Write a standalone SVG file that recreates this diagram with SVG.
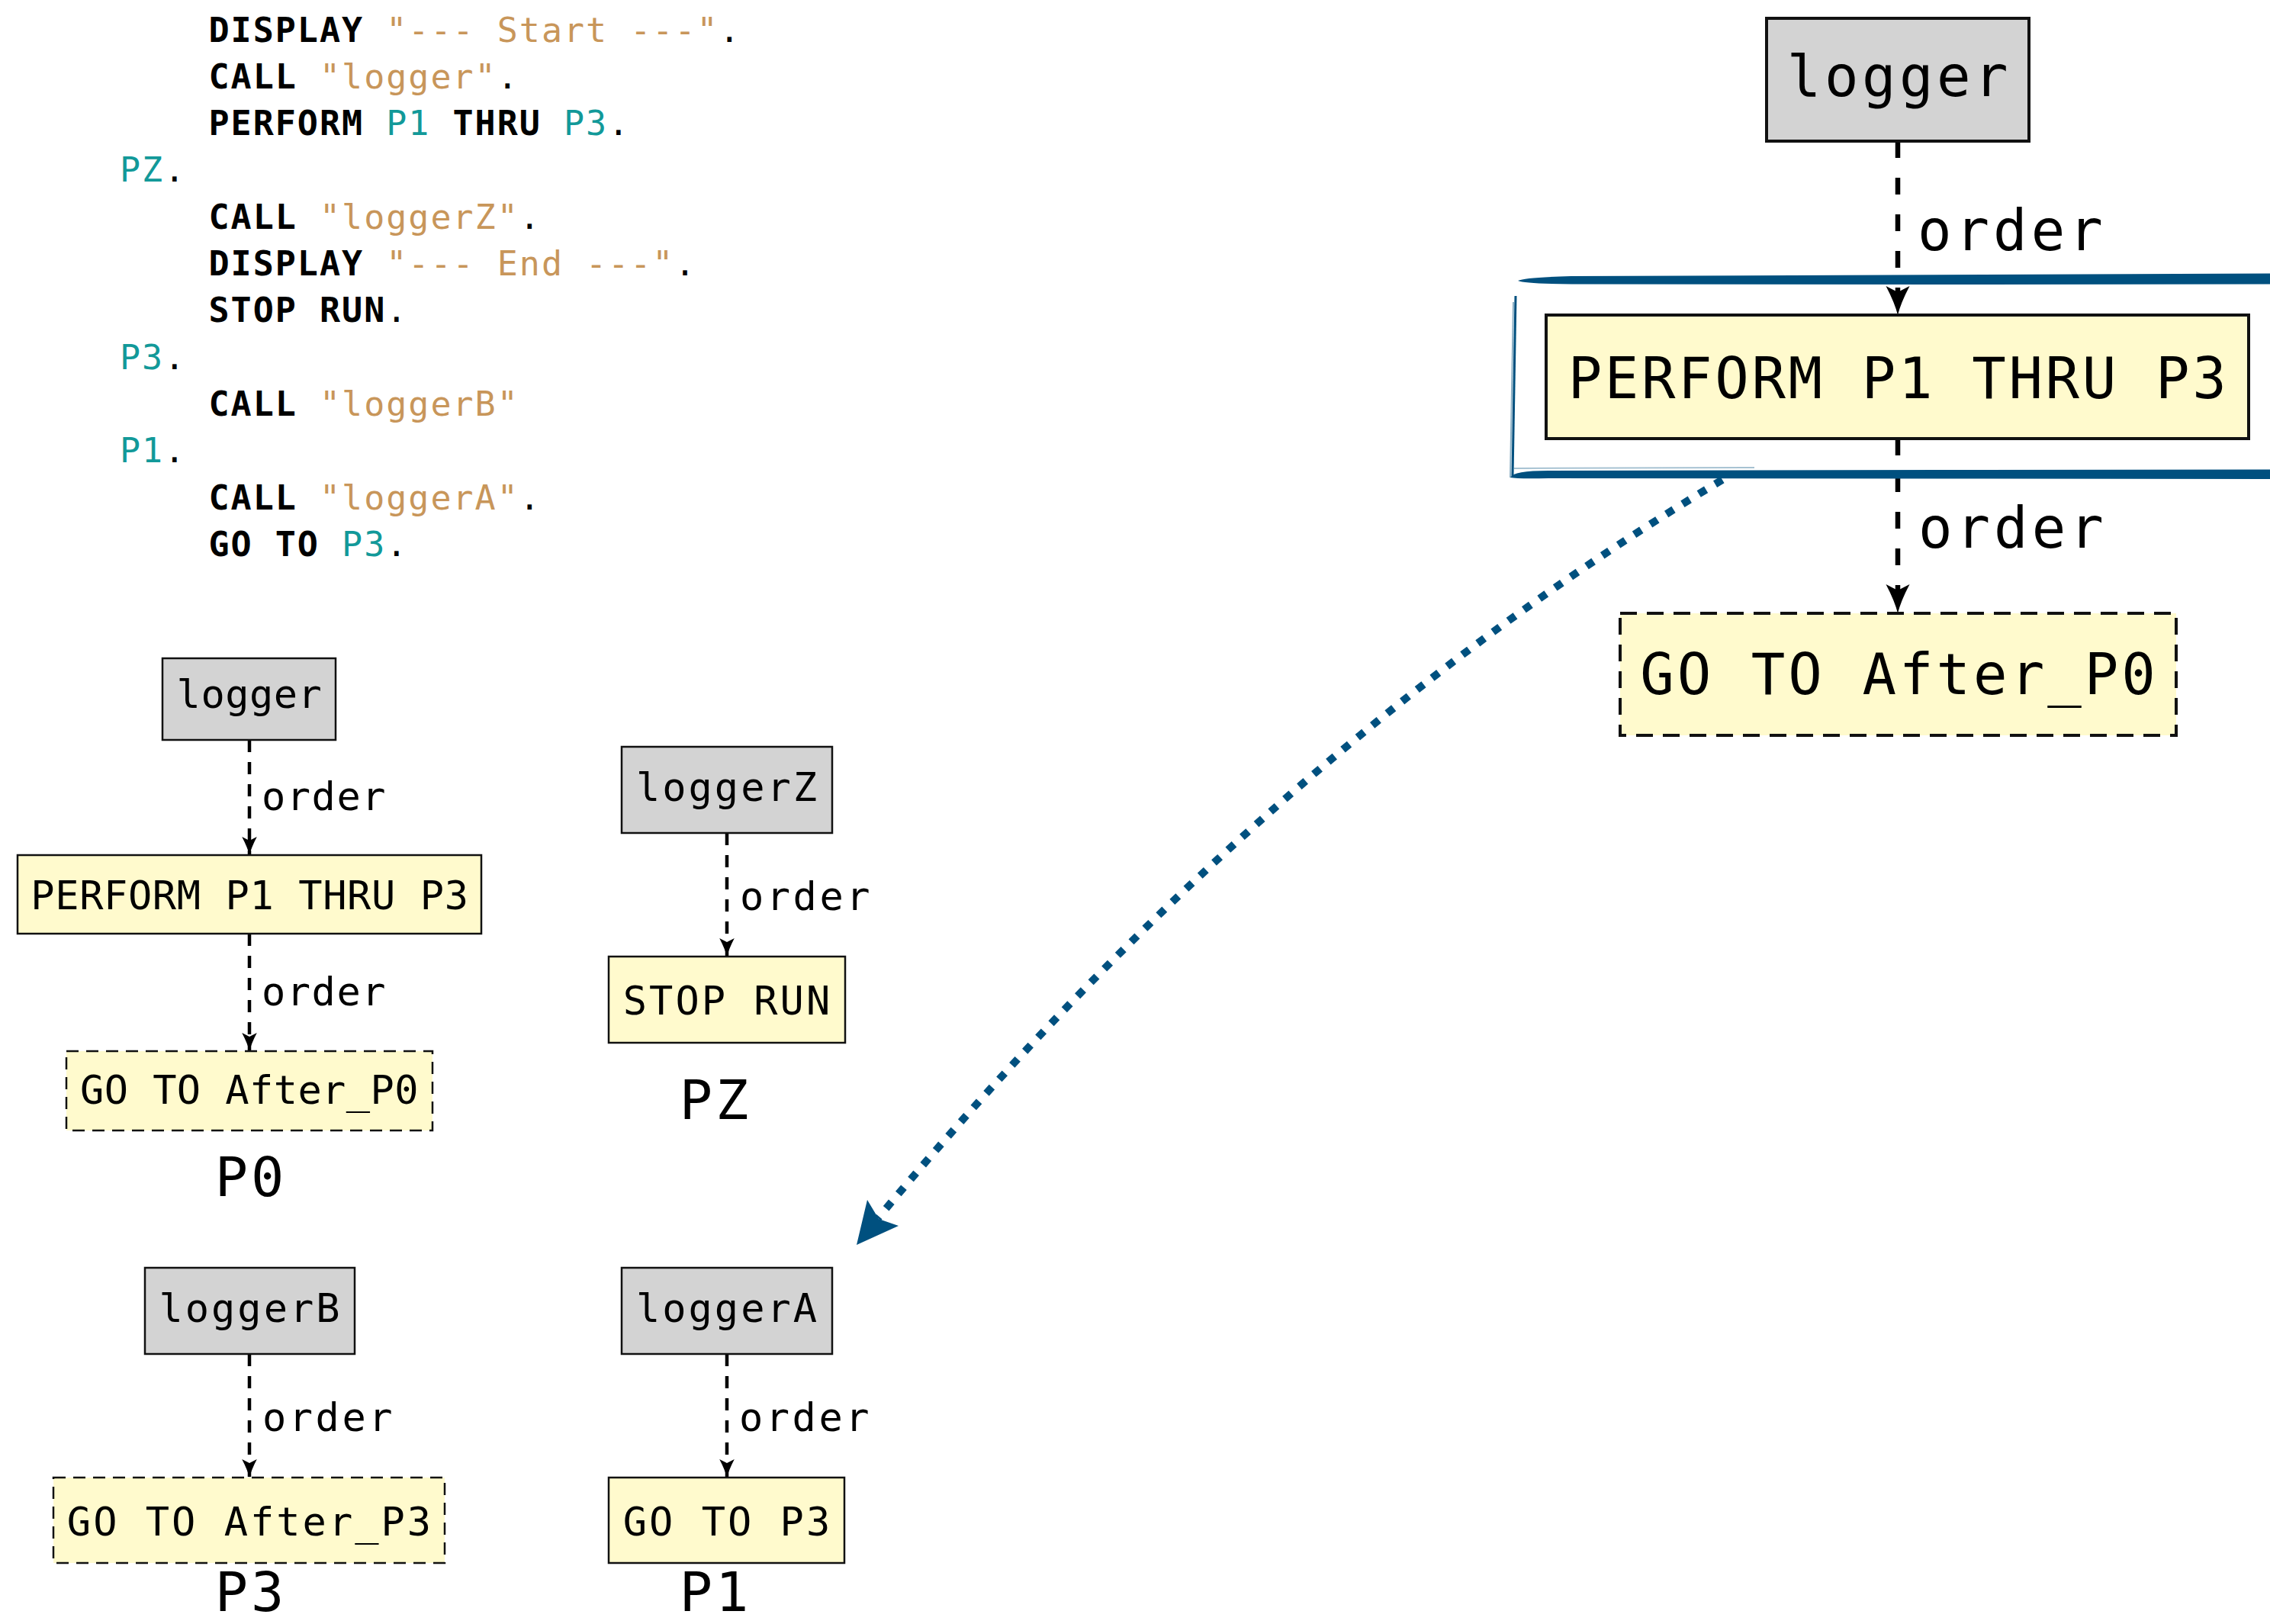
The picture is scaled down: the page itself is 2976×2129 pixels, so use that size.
<svg xmlns="http://www.w3.org/2000/svg" width="2976" height="2129" viewBox="0 0 2976 2129">
  <style>
    .code { font-family: "DejaVu Sans Mono", "Liberation Mono", monospace; font-size: 45px; letter-spacing: 2px; fill: #000; }
    .kw { font-weight: bold; }
    .str { fill: #c8965a; }
    .lbl { fill: #129999; }
    .txt { font-family: "DejaVu Sans Mono", "Liberation Mono", monospace; fill: #000; }
    .s52 { font-size: 52px; }
    .s74 { font-size: 74px; }
    .para { font-size: 72px; letter-spacing: 4px; text-anchor: middle; }
    .mid { text-anchor: middle; }
    .grey { fill: #d3d3d3; stroke: #111; stroke-width: 2.5; }
    .yel { fill: #fffacd; stroke: #111; stroke-width: 2.5; }
    .yel-d { fill: #fffacd; stroke: #111; stroke-width: 2.5; stroke-dasharray: 16 10; }
    .grey-L { fill: #d3d3d3; stroke: #111; stroke-width: 4; }
    .yel-L { fill: #fffacd; stroke: #111; stroke-width: 4; }
    .yel-Ld { fill: #fffacd; stroke: #111; stroke-width: 4; stroke-dasharray: 22 13; }
    .edge { fill: none; stroke: #000; stroke-width: 4.5; stroke-dasharray: 16 13; }
    .edge-L { fill: none; stroke: #000; stroke-width: 6.5; stroke-dasharray: 22 26; }
    .hl { fill: #00507f; }
    .hl-line { fill: none; stroke: #00507f; }
    .jump { fill: none; stroke: #00507f; stroke-width: 10; stroke-dasharray: 11 14; }
  </style>
  <defs>
    <marker id="vee" markerUnits="userSpaceOnUse" viewBox="-26 -11 28 22" refX="0" refY="0" markerWidth="28" markerHeight="22" orient="auto">
      <path d="M0,0 Q-10,-2.5 -24,-9.8 L-19,0 L-24,9.8 Q-10,2.5 0,0 Z" fill="#000"/>
    </marker>
    <marker id="vee-L" markerUnits="userSpaceOnUse" viewBox="-40 -18 44 36" refX="0" refY="0" markerWidth="44" markerHeight="36" orient="auto">
      <path d="M0,0 Q-16,-4 -38,-15.5 L-30,0 L-38,15.5 Q-16,4 0,0 Z" fill="#000"/>
    </marker>
  </defs>

  <rect width="2976" height="2129" fill="#fff"/>

  <!-- COBOL source listing -->
  <g id="source" class="code">
    <text x="273.5" y="55"><tspan class="kw">DISPLAY</tspan> <tspan class="str">"--- Start ---"</tspan>.</text>
    <text x="273.5" y="116"><tspan class="kw">CALL</tspan> <tspan class="str">"logger"</tspan>.</text>
    <text x="273.5" y="177"><tspan class="kw">PERFORM</tspan> <tspan class="lbl">P1</tspan> <tspan class="kw">THRU</tspan> <tspan class="lbl">P3</tspan>.</text>
    <text x="157" y="238"><tspan class="lbl">PZ</tspan>.</text>
    <text x="273.5" y="300"><tspan class="kw">CALL</tspan> <tspan class="str">"loggerZ"</tspan>.</text>
    <text x="273.5" y="361"><tspan class="kw">DISPLAY</tspan> <tspan class="str">"--- End ---"</tspan>.</text>
    <text x="273.5" y="422"><tspan class="kw">STOP RUN</tspan>.</text>
    <text x="157" y="484"><tspan class="lbl">P3</tspan>.</text>
    <text x="273.5" y="545"><tspan class="kw">CALL</tspan> <tspan class="str">"loggerB"</tspan></text>
    <text x="157" y="606"><tspan class="lbl">P1</tspan>.</text>
    <text x="273.5" y="668"><tspan class="kw">CALL</tspan> <tspan class="str">"loggerA"</tspan>.</text>
    <text x="273.5" y="729"><tspan class="kw">GO TO</tspan> <tspan class="lbl">P3</tspan>.</text>
  </g>

  <!-- connectors -->
  <g id="connectors">
    <line class="edge" x1="327" y1="970" x2="327" y2="1121" marker-end="url(#vee)"/>
    <line class="edge" x1="327" y1="1224" x2="327" y2="1378" marker-end="url(#vee)"/>
    <line class="edge" x1="953" y1="1092" x2="953" y2="1254" marker-end="url(#vee)"/>
    <line class="edge" x1="327" y1="1775" x2="327" y2="1937" marker-end="url(#vee)"/>
    <line class="edge" x1="953" y1="1775" x2="953" y2="1937" marker-end="url(#vee)"/>
    <line class="edge-L" x1="2488" y1="185" x2="2488" y2="413" marker-end="url(#vee-L)"/>
    <line class="edge-L" x1="2488" y1="575" x2="2488" y2="804" marker-end="url(#vee-L)"/>
    <text class="txt s52" x="343" y="1062" style="letter-spacing:1.5px">order</text>
    <text class="txt s52" x="343" y="1318" style="letter-spacing:1.5px">order</text>
    <text class="txt s52" x="970" y="1193" style="letter-spacing:3.5px">order</text>
    <text class="txt s52" x="344" y="1876" style="letter-spacing:3.5px">order</text>
    <text class="txt s52" x="969" y="1876" style="letter-spacing:3.5px">order</text>
    <text class="txt s74" x="2514" y="328" style="letter-spacing:5px">order</text>
    <text class="txt s74" x="2515" y="718" style="letter-spacing:5px">order</text>
  </g>

  <!-- P0 paragraph -->
  <g id="p0-logger">
    <rect class="grey" x="213" y="863" width="227" height="107"/>
    <text class="txt s52 mid" x="327" y="928" style="letter-spacing:0.5px">logger</text>
  </g>
  <g id="p0-perform">
    <rect class="yel" x="23" y="1121" width="608" height="103"/>
    <text class="txt s52 mid" x="327.5" y="1192" style="letter-spacing:0.6px">PERFORM P1 THRU P3</text>
  </g>
  <g id="p0-goto">
    <rect class="yel-d" x="87" y="1378" width="480" height="104"/>
    <text class="txt s52 mid" x="327" y="1447" style="letter-spacing:0.4px">GO TO After_P0</text>
  </g>
  <text id="p0-label" class="txt para" x="329" y="1568">P0</text>

  <!-- PZ paragraph -->
  <g id="pz-logger">
    <rect class="grey" x="815" y="979" width="276" height="113"/>
    <text class="txt s52 mid" x="954" y="1050" style="letter-spacing:3px">loggerZ</text>
  </g>
  <g id="pz-stop">
    <rect class="yel" x="798" y="1254" width="310" height="113"/>
    <text class="txt s52 mid" x="954" y="1330" style="letter-spacing:3px">STOP RUN</text>
  </g>
  <text id="pz-label" class="txt para" x="938" y="1467">PZ</text>

  <!-- P3 paragraph -->
  <g id="p3-logger">
    <rect class="grey" x="190" y="1662" width="275" height="113"/>
    <text class="txt s52 mid" x="328.5" y="1733" style="letter-spacing:3px">loggerB</text>
  </g>
  <g id="p3-goto">
    <rect class="yel-d" x="70" y="1937" width="513" height="112"/>
    <text class="txt s52 mid" x="328" y="2013" style="letter-spacing:3px">GO TO After_P3</text>
  </g>
  <text id="p3-label" class="txt para" x="329" y="2112">P3</text>

  <!-- P1 paragraph -->
  <g id="p1-logger">
    <rect class="grey" x="815" y="1662" width="276" height="113"/>
    <text class="txt s52 mid" x="954" y="1733" style="letter-spacing:3px">loggerA</text>
  </g>
  <g id="p1-goto">
    <rect class="yel" x="798" y="1937" width="309" height="112"/>
    <text class="txt s52 mid" x="954" y="2013" style="letter-spacing:3px">GO TO P3</text>
  </g>
  <text id="p1-label" class="txt para" x="938" y="2112">P1</text>

  <!-- enlarged detail of P0 -->
  <g id="big-logger">
    <rect class="grey-L" x="2316" y="24" width="344" height="161"/>
    <text class="txt s74 mid" x="2490" y="126" style="letter-spacing:4.5px">logger</text>
  </g>
  <g id="big-perform">
    <rect class="yel-L" x="2027" y="413" width="921" height="162"/>
    <text class="txt s74 mid" x="2489" y="522" style="letter-spacing:3.6px">PERFORM P1 THRU P3</text>
  </g>
  <g id="big-goto">
    <rect class="yel-Ld" x="2124" y="804" width="729" height="160"/>
    <text class="txt s74 mid" x="2490" y="910" style="letter-spacing:4px">GO TO After_P0</text>
  </g>

  <!-- sketched highlight around the PERFORM statement -->
  <g id="highlight">
    <path class="hl" d="M1990,368 Q2000,363.5 2060,362 L2600,360 L2976,358.5 L2976,372.5 L2600,373 L2060,372.5 Q2000,372 1990,368 Z"/>
    <line class="hl-line" x1="1987" y1="388" x2="1983" y2="624" stroke-width="3"/>
    <line class="hl-line" x1="1984" y1="396" x2="1980" y2="626" stroke-width="2" opacity="0.45"/>
    <path class="hl" d="M1980,626 Q1984,617 2030,617 L2600,616 L2976,615.5 L2976,628 L2600,627.5 L2030,627 Q1990,628 1980,626 Z"/>
    <line class="hl-line" x1="1985" y1="614" x2="2300" y2="613" stroke-width="2" opacity="0.35"/>
  </g>

  <!-- jump from PERFORM into P1 -->
  <g id="jump">
    <path class="jump" d="M2258,629 Q1661,985 1151,1597"/>
    <polygon class="hl" points="1123,1632 1137,1573 1152,1598 1178,1607"/>
  </g>
</svg>
